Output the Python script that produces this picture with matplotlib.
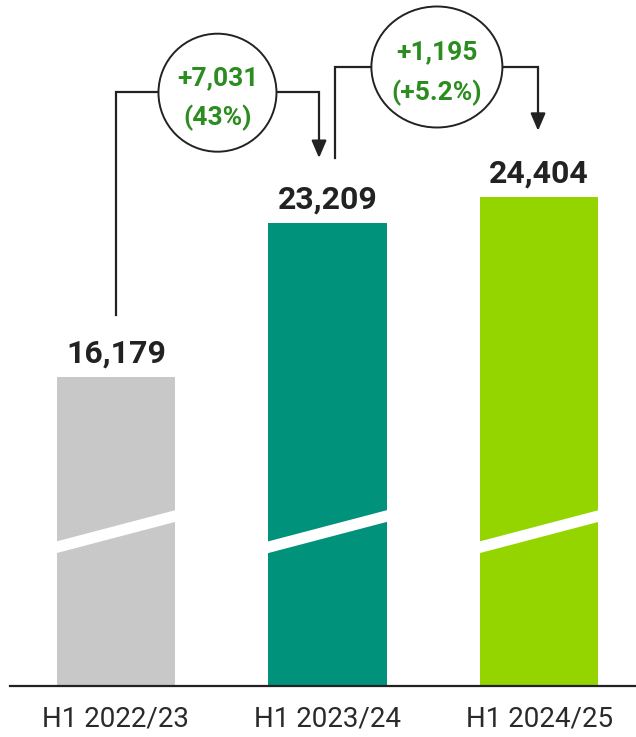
import matplotlib
matplotlib.use("Agg")
import matplotlib.pyplot as plt
from matplotlib.patches import Ellipse, Polygon

# ---- data ----
categories = ["H1 2022/23", "H1 2023/24", "H1 2024/25"]
values = [16179, 23209, 24404]
value_labels = ["16,179", "23,209", "24,404"]
bar_colors = ["#c8c8c8", "#00927a", "#94d500"]
change_abs = ["+7,031", "+1,195"]
change_pct = ["(43%)", "(+5.2%)"]

W, H, DPI = 636, 737, 100
fig = plt.figure(figsize=(W / DPI, H / DPI), dpi=DPI)
ax_left_px, ax_bottom_px = 10, 686
ax = fig.add_axes([ax_left_px / W, (H - ax_bottom_px) / H, (W - ax_left_px) / W, ax_bottom_px / H])

YMIN, YMAX = 2059, 33375
XMIN, XMAX = -0.5005, 2.458
ax.set_xlim(XMIN, XMAX)
ax.set_ylim(YMIN, YMAX)

# pixel -> data unit conversions
dx = (XMAX - XMIN) / (W - ax_left_px)
dy = (YMAX - YMIN) / ax_bottom_px

x = list(range(len(values)))
bar_w = 0.558
ax.bar(x, [v - YMIN for v in values], bottom=YMIN, width=bar_w, color=bar_colors, zorder=2)

# broken-axis stripe
brk_left, brk_right, brk_th = 8117, 9559, 11.7 * dy
for xi in x:
    xl, xr = xi - bar_w / 2 - 0.005, xi + bar_w / 2 + 0.005
    poly = Polygon([(xl, brk_left), (xr, brk_right), (xr, brk_right + brk_th), (xl, brk_left + brk_th)],
                   closed=True, facecolor="white", edgecolor="none", zorder=3)
    ax.add_patch(poly)

dark = "#222222"
green = "#2b8c1f"
for xi, v, lab in zip(x, values, value_labels):
    ax.text(xi, v + 14 * dy, lab, ha="center", va="baseline", fontsize=23,
            fontweight="bold", family="Roboto", color=dark)

# ---- change brackets ----
lw = 1.6
brackets = [
    # (x_start, y_start, x_end, y_level, y_tip, circle_x, circle_w, circle_h)
    (0.0, values[0] + 62 * dy, 0.96, values[0] + 285 * dy, values[1] + 64.7 * dy, 0.48, 118, 118),
    (1.035, values[1] + 64.7 * dy, 1.995, values[1] + 156 * dy, values[2] + 65.7 * dy, 1.517, 131, 121),
]
for i, (xs, ys, xe, yl, yt, cx, cw, ch) in enumerate(brackets):
    ax.plot([xs, xs, xe, xe], [ys, yl, yl, yt + 14 * dy], color=dark, lw=lw,
            solid_joinstyle="miter", zorder=4, clip_on=False)
    ax.annotate("", xy=(xe, yt), xytext=(xe, yt + 15 * dy),
                arrowprops=dict(arrowstyle="-|>,head_length=1.05,head_width=0.45",
                                color=dark, lw=lw, shrinkA=0, shrinkB=0), zorder=5)
    cy = yl - (1.0 if i == 0 else 0.3) * dy
    ax.add_patch(Ellipse((cx, cy), cw * dx, ch * dy, facecolor="white",
                         edgecolor=dark, lw=1.4, zorder=5, clip_on=False))
    ax.text(cx, cy + 7.5 * dy, change_abs[i], ha="center", va="baseline", fontsize=19,
            fontweight="bold", family="Roboto", color=green, zorder=6)
    ax.text(cx, cy - 33 * dy, change_pct[i], ha="center", va="baseline", fontsize=19,
            fontweight="bold", family="Roboto", color=green, zorder=6)

for s in ["top", "left", "right"]:
    ax.spines[s].set_visible(False)
ax.spines["bottom"].set_color(dark)
ax.spines["bottom"].set_linewidth(1.6)
ax.set_yticks([])
ax.set_xticks(x)
ax.set_xticklabels(categories, fontsize=20, family="Roboto", color="#2a2a2a")
ax.tick_params(axis="x", length=0, pad=14)

fig.savefig("out.png", dpi=DPI)
